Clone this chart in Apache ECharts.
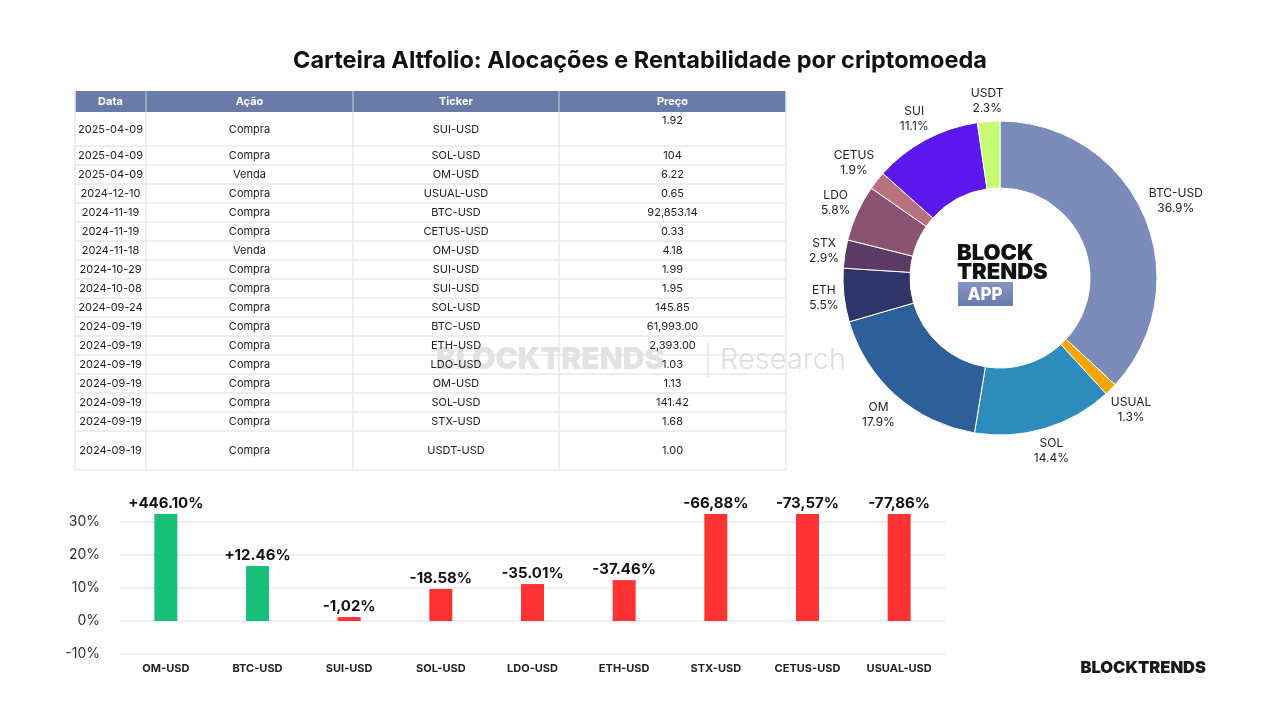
<!DOCTYPE html>
<html>
<head>
<meta charset="utf-8">
<script src="https://cdn.jsdelivr.net/npm/echarts@6/dist/echarts.min.js"></script>
<style>
  html, body { margin: 0; padding: 0; background: #fff; }
  #main { width: 1280px; height: 720px; }
</style>
</head>
<body>
<div id="main"></div>
<script>
// tabela de operações
var tableHeader = ['Data', 'Ação', 'Ticker', 'Preço'];
var tradeDates = ['2025-04-09', '2025-04-09', '2025-04-09', '2024-12-10', '2024-11-19', '2024-11-19', '2024-11-18',
  '2024-10-29', '2024-10-08', '2024-09-24', '2024-09-19', '2024-09-19', '2024-09-19', '2024-09-19',
  '2024-09-19', '2024-09-19', '2024-09-19'];
var tradeActions = ['Compra', 'Compra', 'Venda', 'Compra', 'Compra', 'Compra', 'Venda', 'Compra', 'Compra',
  'Compra', 'Compra', 'Compra', 'Compra', 'Compra', 'Compra', 'Compra', 'Compra'];
var tradeTickers = ['SUI-USD', 'SOL-USD', 'OM-USD', 'USUAL-USD', 'BTC-USD', 'CETUS-USD', 'OM-USD', 'SUI-USD',
  'SUI-USD', 'SOL-USD', 'BTC-USD', 'ETH-USD', 'LDO-USD', 'OM-USD', 'SOL-USD', 'STX-USD', 'USDT-USD'];
var tradePrices = ['1.92', '104', '6.22', '0.65', '92,853.14', '0.33', '4.18', '1.99', '1.95', '145.85',
  '61,993.00', '2,393.00', '1.03', '1.13', '141.42', '1.68', '1.00'];

// alocação (donut)
var pieNames = ['BTC-USD', 'USUAL', 'SOL', 'OM', 'ETH', 'STX', 'LDO', 'CETUS', 'SUI', 'USDT'];
var pieValues = [36.9, 1.3, 14.4, 17.9, 5.5, 2.9, 5.8, 1.9, 11.1, 2.3];
var pieColors = ['#7b8bba', '#f5a400', '#2e8cbd', '#2d5f99', '#2f3469', '#5b3a66', '#8a5372', '#b9717f', '#5c18ec', '#c6fb72'];

// rentabilidade (barras)
var barTickers = ['OM-USD', 'BTC-USD', 'SUI-USD', 'SOL-USD', 'LDO-USD', 'ETH-USD', 'STX-USD', 'CETUS-USD', 'USUAL-USD'];
var barHeights = [32.4, 16.7, 1.2, 9.7, 11.2, 12.4, 32.4, 32.4, 32.4];
var barLabels = ['+446.10%', '+12.46%', '-1,02%', '-18.58%', '-35.01%', '-37.46%', '-66,88%', '-73,57%', '-77,86%'];

var chart = echarts.init(document.getElementById('main'));

// monta a tabela com elementos graphic
var colX = [75, 146, 353, 559, 786];
var headTop = 91, headH = 21;
var lineColor = '#e5e8f1';
var tableEls = [];
tableEls.push({ type: 'rect', shape: { x: colX[0], y: headTop, width: colX[4] - colX[0], height: headH },
  style: { fill: '#6a7ba8' }, z: 1 });
for (var c = 0; c < 4; c++) {
  tableEls.push({ type: 'text', x: (colX[c] + colX[c + 1]) / 2, y: headTop + headH / 2, z: 10,
    style: { text: tableHeader[c], fill: '#fff', font: 'bold 11px Inter', align: 'center', verticalAlign: 'middle' } });
}
var y = headTop + headH;
var tableTop = y;
for (var i = 0; i < tradeDates.length; i++) {
  var h = i === 0 ? 34 : (i === tradeDates.length - 1 ? 39 : 19);
  var cells = [tradeDates[i], tradeActions[i], tradeTickers[i], tradePrices[i]];
  for (var k = 0; k < 4; k++) {
    var ty = (k === 3 && i === 0) ? y + 9 : y + h / 2 + 0.5;
    tableEls.push({ type: 'text', x: (colX[k] + colX[k + 1]) / 2, y: ty, z: 10,
      style: { text: cells[k], fill: '#222', font: '11px Inter', align: 'center', verticalAlign: 'middle' } });
  }
  y += h;
  tableEls.push({ type: 'line', shape: { x1: colX[0], y1: y, x2: colX[4], y2: y }, z: 2,
    style: { stroke: lineColor, lineWidth: 1.5 } });
}
for (var v = 0; v < colX.length; v++) {
  tableEls.push({ type: 'line', shape: { x1: colX[v], y1: v === 0 || v === 4 ? headTop : tableTop, x2: colX[v], y2: y }, z: 2,
    style: { stroke: lineColor, lineWidth: 1.5 } });
  if (v > 0 && v < 4) {
    tableEls.push({ type: 'line', shape: { x1: colX[v], y1: headTop, x2: colX[v], y2: tableTop }, z: 3,
      style: { stroke: '#c9d0e3', lineWidth: 1 } });
  }
}

var option = {
  backgroundColor: '#fff',
  textStyle: { fontFamily: 'Inter' },
  animation: false,
  title: {
    text: 'Carteira Altfolio: Alocações e Rentabilidade por criptomoeda',
    left: 'center',
    top: 44,
    textStyle: { fontSize: 23.5, fontWeight: 'bold', color: '#111', fontFamily: 'Inter' }
  },
  graphic: tableEls.concat([
    // marca d'agua
    { type: 'text', x: 436, y: 360, z: 5, silent: true,
      style: { text: 'BLOCKTRENDS', font: '900 30px Inter', fill: '#e2e2e2', verticalAlign: 'middle' } },
    { type: 'line', shape: { x1: 708, y1: 343, x2: 708, y2: 377 }, z: 5, style: { stroke: '#e2e2e2', lineWidth: 1.5 } },
    { type: 'text', x: 720, y: 360, z: 5, silent: true,
      style: { text: 'Research', font: '300 29px Inter', fill: '#dedede', verticalAlign: 'middle' } },
    // logo no centro do donut
    { type: 'text', x: 957, y: 253, z: 10,
      style: { text: 'BLOCK', font: '900 22px Inter', fill: '#111', verticalAlign: 'middle' } },
    { type: 'text', x: 957, y: 272, z: 10,
      style: { text: 'TRENDS', font: '900 22px Inter', fill: '#111', verticalAlign: 'middle' } },
    { type: 'rect', shape: { x: 958, y: 282, width: 55, height: 24 }, z: 10,
      style: { fill: new echarts.graphic.LinearGradient(0, 0, 0, 1, [{ offset: 0, color: '#8494c4' }, { offset: 1, color: '#6a7aaa' }]) } },
    { type: 'text', x: 985, y: 295, z: 11,
      style: { text: 'APP', font: '800 17px Inter', fill: '#fff', align: 'center', verticalAlign: 'middle' } },
    // rodapé
    { type: 'text', x: 1206, y: 668, z: 10,
      style: { text: 'BLOCKTRENDS', font: '900 16.5px Inter', fill: '#1a1a1a', align: 'right', verticalAlign: 'middle' } }
  ]),
  grid: { left: 120, right: 335, top: 522, bottom: 66 },
  xAxis: {
    type: 'category',
    data: barTickers,
    axisLine: { show: false },
    axisTick: { show: false },
    axisLabel: { fontSize: 11, fontWeight: 'bold', color: '#222', margin: 9, interval: 0 }
  },
  yAxis: {
    type: 'value',
    min: -10,
    max: 30,
    interval: 10,
    axisLabel: { formatter: '{value}%', fontSize: 14, color: '#333', margin: 20 },
    splitLine: { lineStyle: { color: '#e9e9f1', width: 1.5 } }
  },
  series: [
    {
      type: 'bar',
      clip: false,
      barWidth: 23,
      data: barHeights.map(function (val, i) {
        return { value: val, itemStyle: { color: barLabels[i].charAt(0) === '+' ? '#19c07a' : '#ff3333' } };
      }),
      label: {
        show: true,
        position: 'top',
        distance: 3,
        fontSize: 15,
        fontWeight: 'bold',
        color: '#111',
        formatter: function (p) { return barLabels[p.dataIndex]; }
      }
    },
    {
      type: 'pie',
      center: [1000, 278],
      radius: [90, 157],
      startAngle: 90,
      clockwise: true,
      avoidLabelOverlap: false,
      itemStyle: { borderColor: '#fff', borderWidth: 1 },
      label: {
        show: true,
        position: 'outside',
        fontSize: 12,
        lineHeight: 15,
        color: '#222',
        formatter: function (p) { return p.name + '\n' + p.value.toFixed(1) + '%'; }
      },
      labelLine: { show: false },
      labelLayout: function (p) {
        var lay = chart.getModel().getSeriesByIndex(1).getData().getItemLayout(p.dataIndex);
        var mid = (lay.startAngle + lay.endAngle) / 2;
        var dx = Math.cos(mid), dy = Math.sin(mid);
        var t = lay.r + 4 + Math.abs(dx) * p.labelRect.width / 2 + Math.abs(dy) * p.labelRect.height / 2;
        return { x: lay.cx + dx * t, y: lay.cy + dy * t, align: 'center', verticalAlign: 'middle' };
      },
      emphasis: { disabled: true },
      data: pieNames.map(function (n, i) {
        return { name: n, value: pieValues[i], itemStyle: { color: pieColors[i] } };
      })
    }
  ]
};
chart.setOption(option);
</script>
</body>
</html>
